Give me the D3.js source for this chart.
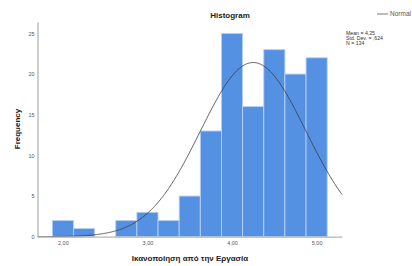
<!DOCTYPE html>
<html><head><meta charset="utf-8">
<script src="https://cdn.jsdelivr.net/npm/d3@7"></script>
<style>body{margin:0;background:#fff}svg{display:block}text{font-family:"Liberation Sans",Arial,sans-serif}</style>
</head><body><svg id="c" width="412" height="266"></svg>
<script>
const binEdges = [1.875,2.125,2.375,2.625,2.875,3.125,3.375,3.625,3.875,4.125,4.375,4.625,4.875,5.125];
const counts = [2,1,0,2,3,2,5,13,25,16,23,20,22];
const xTicks = [2,3,4,5];
const xTickLabels = ["2,00","3,00","4,00","5,00"];
const yTicks = [0,5,10,15,20,25];
const stats = {mean:4.25, sd:0.624, n:134};
const statLines = ["Mean = 4,25","Std. Dev. = ,624","N = 134"];

const svg = d3.select("#c");
const x = d3.scaleLinear().domain([1.7,5.3]).range([37.5,342]);
const y = d3.scaleLinear().domain([0,26.4]).range([236.7,22]);

// bars
svg.append("g").selectAll("rect").data(counts).join("rect")
  .attr("x", (d,i)=>x(binEdges[i]))
  .attr("width", (d,i)=>x(binEdges[i+1])-x(binEdges[i]))
  .attr("y", d=>y(d))
  .attr("height", d=>y(0)-y(d))
  .attr("fill","#5591e3")
  .attr("stroke","#b8d2f3").attr("stroke-width",0.9)
  .attr("display", d=> d>0?null:"none");

// normal curve
const bw = binEdges[1]-binEdges[0];
const pts = d3.range(1.7,5.3001,0.01).map(v=>[v, stats.n*bw/(stats.sd*Math.sqrt(2*Math.PI))*Math.exp(-0.5*((v-stats.mean)/stats.sd)**2)]);
svg.append("path").datum(pts)
  .attr("d", d3.line().x(d=>x(d[0])).y(d=>y(d[1])))
  .attr("fill","none").attr("stroke","#3a3a3a").attr("stroke-width",0.8);

// axes
const xAxis = d3.axisBottom(x).tickValues(xTicks).tickFormat((d,i)=>xTickLabels[i]).tickSize(0).tickPadding(4);
const gx = svg.append("g").attr("transform",`translate(0,${y(0)})`).call(xAxis);
const yAxis = d3.axisLeft(y).tickValues(yTicks).tickSize(0).tickPadding(3);
const gy = svg.append("g").attr("transform",`translate(${x(1.7)},0)`).call(yAxis);
[gx,gy].forEach(g=>{
  g.select(".domain").attr("stroke","#b4b4b4").attr("stroke-width",1.3);
  g.selectAll("text").attr("font-size",5.5).attr("fill","#555").attr("font-family","Liberation Sans, Arial, sans-serif");
});

// title & labels
svg.append("text").attr("x",230).attr("y",18).attr("text-anchor","middle")
  .attr("font-size",8).attr("font-weight","bold").attr("fill","#222").text("Histogram");
svg.append("text").attr("transform","translate(20,129) rotate(-90)").attr("text-anchor","middle")
  .attr("font-size",8).attr("font-weight","bold").attr("fill","#222").text("Frequency");
svg.append("text").attr("x",190).attr("y",261).attr("text-anchor","middle")
  .attr("font-size",8).attr("font-weight","bold").attr("fill","#222").text("Ικανοποίηση από την Εργασία");

// legend
svg.append("line").attr("x1",377).attr("x2",388).attr("y1",14).attr("y2",14).attr("stroke","#555").attr("stroke-width",0.8);
svg.append("text").attr("x",390).attr("y",16).attr("font-size",6.5).attr("fill","#555").text("Normal");

// stats
svg.append("g").selectAll("text").data(statLines).join("text")
  .attr("x",346).attr("y",(d,i)=>35+i*4.8)
  .attr("font-size",5.2).attr("fill","#333").text(d=>d);
</script></body></html>
